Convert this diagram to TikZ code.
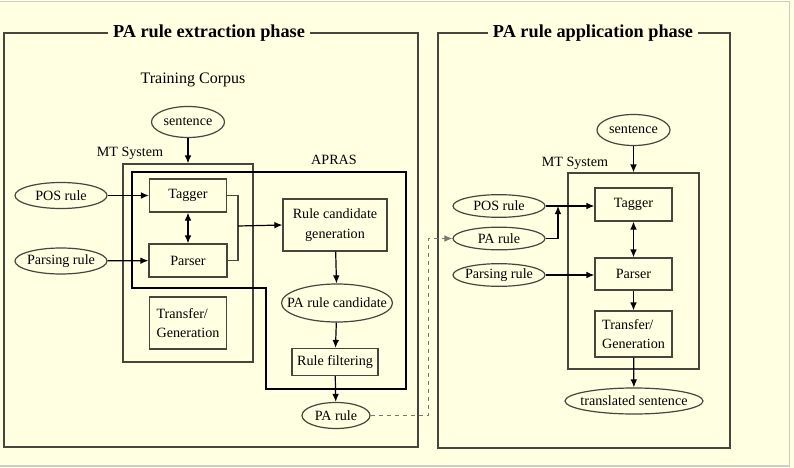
\documentclass[tikz,border=0pt]{standalone}
\usepackage{fontspec}
\setmainfont{Liberation Serif}
\usepackage{xcolor}
\usepackage{tikz}
\usetikzlibrary{positioning,arrows.meta,shapes.geometric,calc}
\definecolor{paperyellow}{RGB}{255,255,226}
\definecolor{inkgray}{RGB}{70,70,62}
\definecolor{edgegray}{RGB}{205,205,200}
\definecolor{linkgray}{RGB}{120,120,110}
\tikzset{
  stage-box/.style={draw=inkgray, line width=0.9pt, rectangle, align=center,
    font=\fontsize{10.6pt}{14.5pt}\selectfont, inner sep=2pt},
  data-ellipse/.style={draw=inkgray, line width=0.9pt, ellipse, align=center,
    font=\fontsize{10.6pt}{14.5pt}\selectfont, inner xsep=-30pt, inner ysep=-12pt},
  system-frame/.style={draw=inkgray, line width=0.9pt, rectangle, inner sep=0pt},
  phase-frame/.style={draw=inkgray, line width=0.9pt},
  apras-line/.style={draw=black, line width=2.2pt, line join=miter},
  flow-arrow/.style={-{Latex[length=6pt,width=5pt]}, line width=0.9pt, draw=black},
  both-arrow/.style={{Latex[length=6pt,width=5pt]}-{Latex[length=6pt,width=5pt]}, line width=0.9pt, draw=black},
  plain-line/.style={line width=0.9pt, draw=inkgray},
  dashed-link/.style={-{Latex[length=6pt,width=5pt]}, line width=0.7pt, draw=linkgray, dashed},
  phase-title/.style={fill=paperyellow, font=\fontsize{13.7pt}{16pt}\selectfont\bfseries, inner xsep=4pt},
  plain-label/.style={font=\fontsize{10.6pt}{14.5pt}\selectfont, inner sep=1pt}
}
\begin{document}
\begin{tikzpicture}[x=0.75pt,y=-0.75pt]
\fill[paperyellow] (0,0) rectangle (794,468);
\useasboundingbox (0,0) rectangle (794,468);
\draw[edgegray, line width=0.8pt] (0,1.5) -- (789.5,1.5) -- (789.5,466) -- (0,466);

% extraction phase
\draw[phase-frame] (4,33) rectangle (418,447);
\node[phase-title] (extitle) at (209,33) {PA rule extraction phase};
\node[font=\fontsize{12pt}{14pt}\selectfont] (corpus) at (193,80) {Training Corpus};
\node[data-ellipse, minimum width=54.75pt, minimum height=23.25pt] (lsent) at (188,122) {sentence};
\node[plain-label] (lmtlabel) at (130,153) {MT System};
\node[system-frame, minimum width=97.5pt, minimum height=148.5pt] (lmt) at (188,263) {};
\node[plain-label] (apraslabel) at (334,160) {APRAS};
\node[stage-box, minimum width=57.75pt, minimum height=24.75pt] (ltagger) at (188,195.5) {Tagger};
\node[stage-box, minimum width=58.5pt, minimum height=24.75pt] (lparser) at (188,260.5) {Parser};
\node[stage-box, minimum width=57.75pt, minimum height=39pt, align=left] (ltransfer) at (188,323) {Transfer/\\Generation};
\node[data-ellipse, minimum width=69pt, minimum height=19.5pt] (lpos) at (61,195.5) {POS rule};
\node[data-ellipse, minimum width=69pt, minimum height=19.5pt] (lparsing) at (61,261) {Parsing rule};
\node[stage-box, minimum width=78pt, minimum height=39pt] (lrcg) at (335,225) {Rule candidate\\generation};
\node[data-ellipse, minimum width=83.25pt, minimum height=28.5pt] (lprc) at (337,303) {PA rule candidate};
\node[stage-box, minimum width=64.5pt, minimum height=20.25pt] (lfilter) at (335,362) {Rule filtering};
\node[data-ellipse, minimum width=51pt, minimum height=19.5pt] (lpa) at (336,415.5) {PA rule};
\coordinate (lmerge) at (238,226);
\coordinate (ljump) at (428,238.5);

\draw[apras-line] (132,172) -- (406,172) -- (406,389) -- (266,389) -- (266,288) -- (132,288) -- cycle;

\draw[flow-arrow] (lsent) -- (lmt.north);
\draw[flow-arrow] (lpos) -- (ltagger);
\draw[flow-arrow] (lparsing) -- (lparser);
\draw[both-arrow] (ltagger) -- (lparser);
\draw[plain-line] (ltagger.east) -| (lmerge) |- (lparser.east);
\draw[flow-arrow] (lmerge) -- (lrcg.west);
\draw[flow-arrow] (lrcg) -- (lprc);
\draw[flow-arrow] (lprc) -- (lfilter);
\draw[flow-arrow] (lfilter) -- (lpa);

% application phase
\draw[phase-frame] (438,33) rectangle (730,448);
\node[phase-title] (aptitle) at (593,33) {PA rule application phase};
\node[data-ellipse, minimum width=54.75pt, minimum height=23.25pt] (rsent) at (633.5,130) {sentence};
\node[plain-label] (rmtlabel) at (575,163) {MT System};
\node[system-frame, minimum width=98.25pt, minimum height=147pt] (rmt) at (633.5,271) {};
\node[stage-box, minimum width=57.75pt, minimum height=24.75pt] (rtagger) at (633.5,204.5) {Tagger};
\node[stage-box, minimum width=57.75pt, minimum height=24pt] (rparser) at (633.5,274) {Parser};
\node[stage-box, minimum width=57.75pt, minimum height=34.5pt, align=left] (rtransfer) at (633.5,334) {Transfer/\\Generation};
\node[data-ellipse, minimum width=103.5pt, minimum height=19.5pt] (rtrans) at (634,401) {translated sentence};
\node[data-ellipse, minimum width=69pt, minimum height=17pt] (rpos) at (499,206) {POS rule};
\node[data-ellipse, minimum width=69pt, minimum height=17pt] (rpa) at (499,238.5) {PA rule};
\node[data-ellipse, minimum width=69pt, minimum height=17pt] (rparsing) at (499,275) {Parsing rule};
\coordinate (rjoin) at (558,206);

\draw[flow-arrow] (rsent) -- (rmt.north);
\draw[flow-arrow] (rpos) -- (rtagger.west |- rpos);
\draw[flow-arrow] (rpa.east) -| (rjoin);
\draw[flow-arrow] (rparsing) -- (rparser.west |- rparsing);
\draw[both-arrow] (rtagger) -- (rparser);
\draw[flow-arrow] (rparser) -- (rtransfer);
\draw[flow-arrow] (rtransfer) -- (rtrans);

\draw[dashed-link] (lpa.east) -| (ljump) -- (rpa.west);
\end{tikzpicture}
\end{document}
